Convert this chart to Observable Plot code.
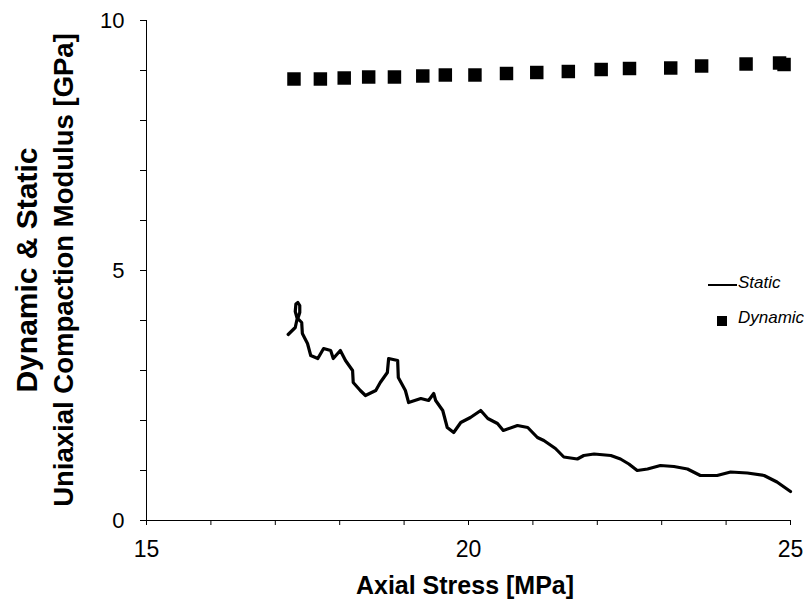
<!DOCTYPE html>
<html><head><meta charset="utf-8">
<script src="https://cdn.jsdelivr.net/npm/d3@7"></script>
<script src="https://cdn.jsdelivr.net/npm/@observablehq/plot@0.6"></script>
<style>
body{margin:0;background:#fff}
#wrap{position:relative;width:804px;height:605px;overflow:hidden}
.t{position:absolute;white-space:nowrap;color:#000}
.yt{font:bold 30px "Liberation Sans Narrow","Liberation Sans",Arial,sans-serif;width:600px;height:40px;line-height:40px;text-align:center;transform:rotate(-90deg)}
.yt2{font-size:27.5px}
.xt{font:bold 25px "Liberation Sans",Arial,sans-serif;width:400px;line-height:25px;text-align:center}
.leg{font:italic 17px "Liberation Sans",Arial,sans-serif;line-height:17px}
</style></head><body><div id="wrap"></div>
<script>
// Static modulus trace (GPa) vs axial stress (MPa)
const staticX = [17.20,17.31,17.34,17.31,17.32,17.35,17.38,17.38,17.35,17.41,17.42,17.50,17.55,17.66,17.75,17.86,17.90,18.01,18.09,18.20,18.21,18.32,18.40,18.56,18.63,18.74,18.76,18.90,18.91,19.02,19.07,19.26,19.38,19.46,19.49,19.60,19.67,19.77,19.88,20.03,20.19,20.30,20.45,20.54,20.76,20.92,21.07,21.17,21.35,21.48,21.69,21.79,21.95,22.21,22.36,22.49,22.62,22.78,22.98,23.19,23.40,23.60,23.86,24.07,24.33,24.59,24.79,25.00];
const staticY = [3.72,3.86,4.04,4.18,4.33,4.36,4.30,4.16,4.04,3.96,3.74,3.54,3.30,3.24,3.44,3.40,3.24,3.40,3.20,3.00,2.76,2.60,2.50,2.60,2.76,2.96,3.24,3.20,2.86,2.60,2.36,2.44,2.40,2.54,2.40,2.20,1.86,1.76,1.96,2.06,2.20,2.04,1.94,1.80,1.90,1.86,1.66,1.60,1.44,1.27,1.23,1.30,1.33,1.30,1.23,1.13,1.00,1.03,1.10,1.08,1.03,0.90,0.90,0.97,0.95,0.90,0.77,0.58];
// Dynamic modulus points
const dynamicX = [17.29,17.70,18.07,18.45,18.85,19.29,19.64,20.10,20.59,21.06,21.55,22.06,22.50,23.14,23.62,24.31,24.83,24.90];
const dynamicY = [8.83,8.83,8.85,8.87,8.87,8.89,8.91,8.91,8.94,8.96,8.98,9.02,9.04,9.05,9.09,9.13,9.15,9.12];
// Axes
const xTicks = [15,16,17,18,19,20,21,22,23,24,25];
const xLabels = [15,20,25];
const yTicks = [0,1,2,3,4,5,6,7,8,9,10];
const yLabels = [0,5,10];
const xTitle = "Axial Stress [MPa]";
const yTitle1 = "Dynamic & Static";
const yTitle2 = "Uniaxial Compaction Modulus [GPa]";
const legendNames = ["Static","Dynamic"];

const staticData = staticX.map((x,i)=>({x, y: staticY[i]}));
const dynData = dynamicX.map((x,i)=>({x, y: dynamicY[i]}));

const chart = Plot.plot({
  width: 804, height: 605,
  marginLeft: 146, marginRight: 14, marginTop: 20, marginBottom: 85,
  x: {domain: [15,25]},
  y: {domain: [0,10]},
  style: {background: "white", color: "black", overflow: "visible"},
  marks: [
    Plot.axisY(yTicks, {tickSize: 6, tickPadding: 16, tickFormat: d => yLabels.includes(d) ? String(d) : "", fontSize: 22, fontFamily: "Liberation Sans, Arial, sans-serif", label: null}),
    Plot.axisX(xTicks, {tickSize: 5, tickPadding: 15, tickFormat: d => xLabels.includes(d) ? String(d) : "", fontSize: 23, fontFamily: "Liberation Sans Narrow, Liberation Sans, Arial, sans-serif", label: null}),
    Plot.ruleX([15], {stroke: "#000"}),
    Plot.ruleY([0], {stroke: "#000"}),
    Plot.line(staticData, {x: "x", y: "y", stroke: "#000", strokeWidth: 3.2, strokeLinejoin: "round"}),
    Plot.dot(dynData, {x: "x", y: "y", symbol: "square", fill: "#000", r: 7.6})
  ]
});
const wrap = document.getElementById("wrap");
wrap.appendChild(chart);

function addText(cls, txt, left, top){
  const d = document.createElement("div");
  d.className = "t " + cls; d.textContent = txt;
  d.style.left = left + "px"; d.style.top = top + "px";
  wrap.appendChild(d); return d;
}
addText("yt", yTitle1, 27 - 300, 270 - 20);
addText("yt yt2", yTitle2, 64 - 300, 270 - 20);
addText("xt", xTitle, 465 - 200, 573);
// legend
addText("leg", legendNames[0], 738, 274);
addText("leg", legendNames[1], 738, 309);
const ln = document.createElement("div");
ln.style.cssText = "position:absolute;left:708px;top:284px;width:29px;height:2px;background:#000";
wrap.appendChild(ln);
const sq = document.createElement("div");
sq.style.cssText = "position:absolute;left:717px;top:316px;width:10px;height:10px;background:#000";
wrap.appendChild(sq);
</script>
</body></html>
